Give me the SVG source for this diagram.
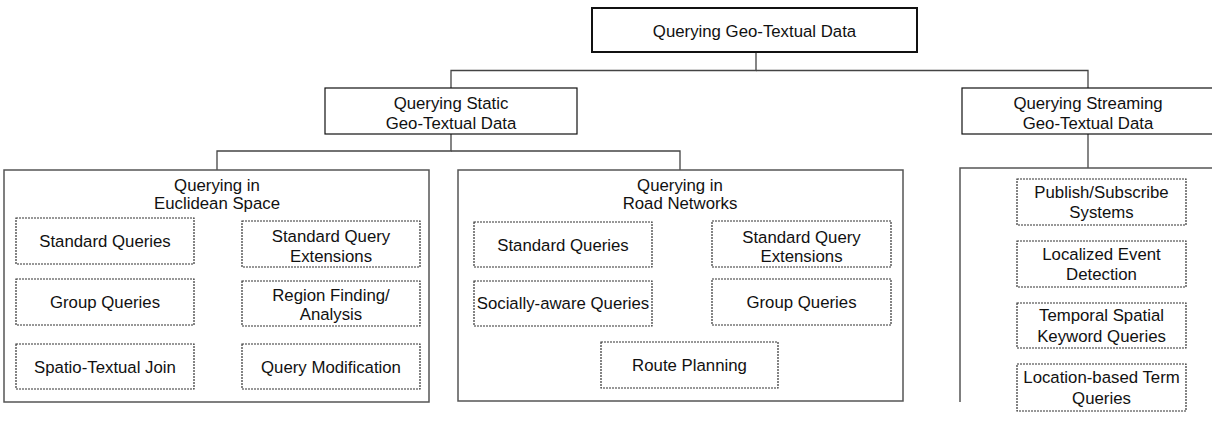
<svg xmlns="http://www.w3.org/2000/svg" width="1212" height="421" viewBox="0 0 1212 421">
<style>
text{font-family:"Liberation Sans",Arial,sans-serif;font-size:16.8px;fill:#111;text-anchor:middle}
.node{fill:#fff;stroke:#111;stroke-width:1.2}
.root{fill:#fff;stroke:#111;stroke-width:2}
.panel{fill:#fff;stroke:#555;stroke-width:1.5}
.dash{fill:#fff;stroke:#333;stroke-width:1.2;stroke-dasharray:2 1}
.conn{fill:none;stroke:#444;stroke-width:1.3}
</style>
<rect width="1212" height="421" fill="#fff"/>
<g id="connectors">
<path class="conn" d="M756,52 V70.5 H451 V88"/>
<path class="conn" d="M756,70.5 H1088 V88"/>
<path class="conn" d="M451,134 V151 H217 V170"/>
<path class="conn" d="M451,151 H680 V170"/>
<path class="conn" d="M1088,134 V168"/>
</g>
<g id="root">
<rect class="root" x="592" y="8" width="325" height="44"/>
<text x="754.5" y="37">Querying Geo-Textual Data</text>
</g>
<g id="static">
<rect class="node" x="325" y="88" width="252" height="46"/>
<text x="451" y="108.5">Querying Static</text>
<text x="451" y="128.5">Geo-Textual Data</text>
</g>
<g id="streaming">
<rect class="node" x="962" y="88" width="260" height="46"/>
<text x="1088" y="108.5">Querying Streaming</text>
<text x="1088" y="128.5">Geo-Textual Data</text>
</g>
<g id="euclidean">
<rect class="panel" x="4" y="170" width="425" height="232"/>
<text x="217" y="191">Querying in</text>
<text x="217" y="209">Euclidean Space</text>
</g>
<g id="e-standard"><rect class="dash" x="16" y="218" width="178" height="46"/><text x="105" y="247">Standard Queries</text></g>
<g id="e-extensions"><rect class="dash" x="242" y="221" width="178" height="46"/><text x="331" y="242">Standard Query</text><text x="331" y="261.5">Extensions</text></g>
<g id="e-group"><rect class="dash" x="16" y="279" width="178" height="46"/><text x="105" y="308">Group Queries</text></g>
<g id="e-region"><rect class="dash" x="242" y="281" width="178" height="45"/><text x="331" y="301">Region Finding/</text><text x="331" y="320">Analysis</text></g>
<g id="e-join"><rect class="dash" x="16" y="344" width="178" height="45"/><text x="105" y="372.5">Spatio-Textual Join</text></g>
<g id="e-modification"><rect class="dash" x="242" y="344" width="178" height="45"/><text x="331" y="372.5">Query Modification</text></g>
<g id="road">
<rect class="panel" x="458" y="170" width="445" height="231"/>
<text x="680" y="191">Querying in</text>
<text x="680" y="209">Road Networks</text>
</g>
<g id="r-standard"><rect class="dash" x="474" y="222" width="178" height="45"/><text x="563" y="250.5">Standard Queries</text></g>
<g id="r-extensions"><rect class="dash" x="712" y="221" width="179" height="46"/><text x="801.5" y="242.5">Standard Query</text><text x="801.5" y="261.5">Extensions</text></g>
<g id="r-social"><rect class="dash" x="474" y="281" width="178" height="45"/><text x="563" y="309">Socially-aware Queries</text></g>
<g id="r-group"><rect class="dash" x="712" y="279" width="179" height="46"/><text x="801.5" y="308">Group Queries</text></g>
<g id="r-route"><rect class="dash" x="601" y="342" width="177" height="46"/><text x="689.5" y="371">Route Planning</text></g>
<g id="stream-panel">
<path class="panel" fill="none" d="M960,402 V168 H1215"/>
</g>
<g id="s-pubsub"><rect class="dash" x="1017" y="179" width="169" height="46"/><text x="1101.5" y="197.5">Publish/Subscribe</text><text x="1101.5" y="218">Systems</text></g>
<g id="s-event"><rect class="dash" x="1017" y="241" width="169" height="46"/><text x="1101.5" y="259.5">Localized Event</text><text x="1101.5" y="280">Detection</text></g>
<g id="s-temporal"><rect class="dash" x="1017" y="303" width="169" height="45"/><text x="1101.5" y="321">Temporal Spatial</text><text x="1101.5" y="341.5">Keyword Queries</text></g>
<g id="s-term"><rect class="dash" x="1017" y="364" width="169" height="47"/><text x="1101.5" y="383">Location-based Term</text><text x="1101.5" y="403.5">Queries</text></g>
</svg>
